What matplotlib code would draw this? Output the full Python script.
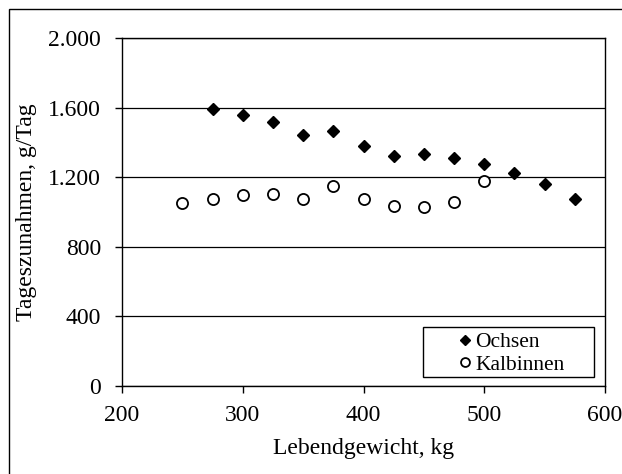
import matplotlib
matplotlib.use("Agg")
import matplotlib.pyplot as plt
from matplotlib.patches import Rectangle
from matplotlib.ticker import FuncFormatter

plt.rcParams['font.family'] = ['Liberation Serif', 'DejaVu Serif']
plt.rcParams['font.size'] = 17

# Ochsen (steers)
ochsen_kg = [275, 300, 325, 350, 375, 400, 425, 450, 475, 500, 525, 550, 575]
ochsen_g = [1592, 1556, 1515, 1443, 1466, 1381, 1322, 1332, 1312, 1278, 1226, 1161, 1076]

# Kalbinnen (heifers)
kalb_kg = [250, 275, 300, 325, 350, 375, 400, 425, 450, 475, 500]
kalb_g = [1052, 1077, 1096, 1105, 1077, 1151, 1073, 1034, 1027, 1056, 1178]

yticks = [0, 400, 800, 1200, 1600, 2000]
xticks = [200, 300, 400, 500, 600]

fig = plt.figure(figsize=(6.22, 4.74), dpi=100)
ax = fig.add_axes([122/622, 1-386/474, 483/622, 348/474])

ax.plot(ochsen_kg, ochsen_g, 'D', color='black', ms=6.2, label='Ochsen', zorder=3)
ax.plot(kalb_kg, kalb_g, 'o', mfc='white', mec='black', mew=1.3, ms=8,
        label='Kalbinnen', zorder=3)

ax.set_xlim(200, 600)
ax.set_ylim(0, 2000)
ax.set_xticks(xticks)
ax.set_yticks(yticks)
ax.yaxis.set_major_formatter(FuncFormatter(lambda v, p: f"{int(v):,}".replace(",", ".")))
ax.grid(axis='y', color='black', lw=0.9)
ax.set_axisbelow(True)
for s in ax.spines.values():
    s.set_color('black')
    s.set_linewidth(1)
ax.tick_params(direction='out', length=5, width=1, colors='black')
ax.tick_params(axis='x', pad=9)
ax.tick_params(axis='y', pad=10)

ax.set_xlabel('Lebendgewicht, kg', labelpad=8)
ax.set_ylabel('Tageszunahmen, g/Tag', labelpad=8)

# legend box drawn separately, entries pushed toward the right like in Excel
ax.add_patch(Rectangle((0.623, 0.026), 0.354, 0.144, transform=ax.transAxes,
                       fill=True, fc='white', ec='black', lw=1, zorder=4))
leg = ax.legend(loc='center left', bbox_to_anchor=(0.697, 0.093), frameon=False,
                fontsize=15.5, handlelength=0.6, handletextpad=0.16,
                labelspacing=0.12, borderpad=0, borderaxespad=0, markerscale=0.8)
leg.set_zorder(5)

# outer chart border
fig.add_artist(Rectangle((9/622, -0.05), 1.2, 1 - 9/474 + 0.05,
                         transform=fig.transFigure, fill=False, ec='black', lw=1))

fig.savefig('out.png', dpi=100)
